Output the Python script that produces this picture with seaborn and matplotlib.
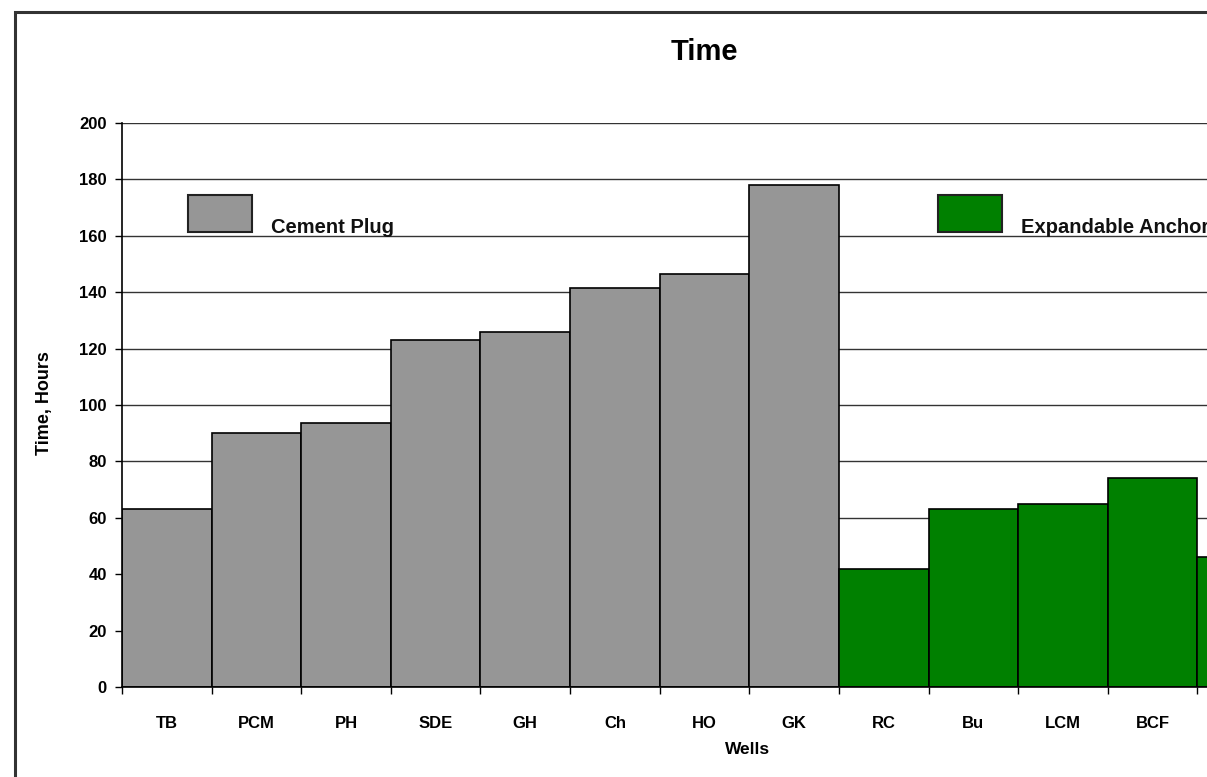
import matplotlib
matplotlib.use("Agg")
import matplotlib.pyplot as plt
from matplotlib.patches import Rectangle
import seaborn as sns
import pandas as pd

# data (last well is cut off at the right edge)
wells = ["TB", "PCM", "PH", "SDE", "GH", "Ch", "HO", "GK",
         "RC", "Bu", "LCM", "BCF", "W13"]
hours = [63, 90, 93.5, 123, 126, 141.5, 146.5, 178,
         42, 63, 65, 74, 46]
groups = ["Cement Plug"] * 8 + ["Expandable Anchor"] * 5
colors = {"Cement Plug": "#969696", "Expandable Anchor": "#008000"}

df = pd.DataFrame({"well": wells, "hours": hours, "group": groups})

sns.set_style("ticks")
plt.rcParams["font.family"] = ["Liberation Sans", "DejaVu Sans"]
plt.rcParams["font.weight"] = "bold"
plt.rcParams["text.color"] = "black"
plt.rcParams["axes.labelcolor"] = "black"
plt.rcParams["xtick.color"] = "black"
plt.rcParams["ytick.color"] = "black"

W, H = 1207, 777
fig = plt.figure(figsize=(W / 100, H / 100), dpi=100)
# axes run past the right edge, like the cropped original
ax = fig.add_axes([122 / W, 1 - 687 / H, 1165 / W, 564 / H])

def ax_xy(px, py):
    # pixel position in the picture -> axes fraction
    return (px - 122) / 1165, (687 - py) / 564

sns.barplot(data=df, x="well", y="hours", hue="group", palette=colors,
            dodge=False, width=1.0, saturation=1, edgecolor="black",
            linewidth=1.2, legend=False, ax=ax)

ax.set_xlim(-0.5, len(wells) - 0.5)
ax.set_ylim(0, 200)
ax.set_yticks(range(0, 201, 20))
ax.set_axisbelow(True)
ax.yaxis.grid(True, color="#333333", lw=1)
ax.xaxis.grid(False)

# labels centred under bars, ticks on the bar boundaries
ax.set_xticks(range(len(wells)))
ax.set_xticklabels(wells[:12] + [""])
ax.set_xticks([i - 0.5 for i in range(len(wells) + 1)], minor=True)
ax.tick_params(axis="x", which="major", length=0, pad=21, labelsize=12)
ax.tick_params(axis="x", which="minor", length=5, width=1, color="black")
ax.tick_params(axis="y", length=5, width=1, color="black", labelsize=12, pad=6)
for lab in ax.get_xticklabels() + ax.get_yticklabels():
    lab.set_fontweight("bold")

sns.despine(ax=ax, top=True, right=True)
for s in ("left", "bottom"):
    ax.spines[s].set_color("black")
    ax.spines[s].set_linewidth(1.2)

ax.set_xlabel("Wells", fontsize=12.5, fontweight="bold")
ax.xaxis.set_label_coords(*ax_xy(748, 750))
ax.xaxis.label.set_va("center")
ax.set_ylabel("Time, Hours", fontsize=13, fontweight="bold")
ax.yaxis.set_label_coords(*ax_xy(45, 403))
ax.yaxis.label.set_va("center")
ax.set_title("Time", fontsize=21, fontweight="bold", pad=45)

# legend entries spread across the plot, text sitting on the box bottom
for grp, x0 in [("Cement Plug", 188), ("Expandable Anchor", 938)]:
    x1, y1 = ax_xy(x0, 232)
    x2, y2 = ax_xy(x0 + 64, 195)
    ax.add_patch(Rectangle((x1, y1), x2 - x1, y2 - y1, transform=ax.transAxes,
                           facecolor=colors[grp], edgecolor="#222222", lw=1.5,
                           clip_on=False, zorder=5))
    tx, ty = ax_xy(x0 + 83, 233)
    ax.text(tx, ty, grp, transform=ax.transAxes, fontsize=14.5, fontweight="bold",
            ha="left", va="baseline", color="#111111", zorder=5)

# outer chart frame
fig.add_artist(Rectangle((15 / W, -0.1), 1.2, 1 - 12 / H + 0.1, transform=fig.transFigure,
                         fill=False, edgecolor="#333333", lw=2.2))

fig.savefig("out.png", dpi=100)
